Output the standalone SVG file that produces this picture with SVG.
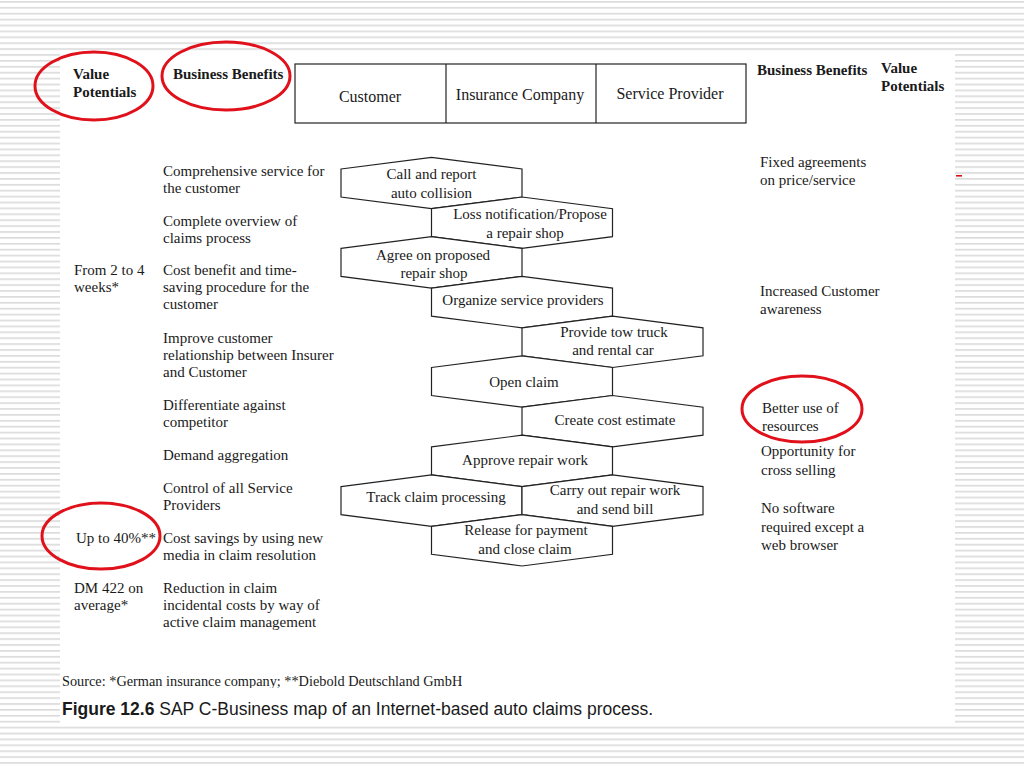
<svg xmlns="http://www.w3.org/2000/svg" width="1024" height="768" viewBox="0 0 1024 768">
<defs>
<pattern id="stripes" x="0" y="1" width="8" height="5.9" patternUnits="userSpaceOnUse">
<rect x="0" y="0" width="8" height="1.7" fill="#dcdcdc"/>
</pattern>
<clipPath id="srcclip"><rect x="55" y="660" width="500" height="28"/></clipPath>
</defs>
<style>
.t{font-family:"Liberation Serif","Times New Roman",serif;font-size:15px;fill:#1a1a1a}
.h{font-family:"Liberation Serif","Times New Roman",serif;font-size:15px;font-weight:bold;fill:#1a1a1a}
.lane{font-family:"Liberation Serif","Times New Roman",serif;font-size:16px;fill:#1a1a1a;text-anchor:middle}
.m{text-anchor:middle}
.hex{fill:#ffffff;stroke:#222;stroke-width:1.2;stroke-linejoin:miter}
.ring{fill:none;stroke:#e0111b;stroke-width:3}
.cap{font-family:"Liberation Sans",Arial,sans-serif;font-size:17.5px;fill:#1a1a1a}
</style>
<rect width="1024" height="768" fill="#ffffff"/>
<rect width="1024" height="768" fill="url(#stripes)"/>
<rect x="60" y="52" width="895" height="671" fill="#ffffff"/>

<g id="header-left">
<text class="h" x="73" y="79">Value</text>
<text class="h" x="73" y="97">Potentials</text>
<text class="h" x="173" y="79">Business Benefits</text>
</g>
<g id="header-right">
<text class="h" x="757" y="75">Business Benefits</text>
<text class="h" x="881" y="73">Value</text>
<text class="h" x="881" y="91">Potentials</text>
</g>

<g id="lanes">
<rect x="295" y="64" width="451" height="59" fill="none" stroke="#222" stroke-width="1.2"/>
<line x1="446" y1="64" x2="446" y2="123" stroke="#222" stroke-width="1.2"/>
<line x1="596" y1="64" x2="596" y2="123" stroke="#222" stroke-width="1.2"/>
<text class="lane" x="370" y="102">Customer</text>
<text class="lane" x="520" y="100">Insurance Company</text>
<text class="lane" x="670" y="99">Service Provider</text>
</g>

<g id="benefits-left">
<text class="t" x="163" y="176">Comprehensive service for</text>
<text class="t" x="163" y="193">the customer</text>
<text class="t" x="163" y="226">Complete overview of</text>
<text class="t" x="163" y="243">claims process</text>
<text class="t" x="163" y="275">Cost benefit and time-</text>
<text class="t" x="163" y="292">saving procedure for the</text>
<text class="t" x="163" y="309">customer</text>
<text class="t" x="163" y="343">Improve customer</text>
<text class="t" x="163" y="360">relationship between Insurer</text>
<text class="t" x="163" y="377">and Customer</text>
<text class="t" x="163" y="410">Differentiate against</text>
<text class="t" x="163" y="427">competitor</text>
<text class="t" x="163" y="460">Demand aggregation</text>
<text class="t" x="163" y="493">Control of all Service</text>
<text class="t" x="163" y="510">Providers</text>
<text class="t" x="163" y="543">Cost savings by using new</text>
<text class="t" x="163" y="560">media in claim resolution</text>
<text class="t" x="163" y="593">Reduction in claim</text>
<text class="t" x="163" y="610">incidental costs by way of</text>
<text class="t" x="163" y="627">active claim management</text>
</g>

<g id="values-left">
<text class="t" x="74" y="275">From 2 to 4</text>
<text class="t" x="74" y="292">weeks*</text>
<text class="t" x="76" y="543">Up to 40%**</text>
<text class="t" x="74" y="593">DM 422 on</text>
<text class="t" x="74" y="610">average*</text>
</g>

<g id="benefits-right">
<text class="t" x="760" y="167">Fixed agreements</text>
<text class="t" x="760" y="185">on price/service</text>
<text class="t" x="760" y="296">Increased Customer</text>
<text class="t" x="760" y="314">awareness</text>
<text class="t" x="762" y="413">Better use of</text>
<text class="t" x="762" y="431">resources</text>
<text class="t" x="761" y="456">Opportunity for</text>
<text class="t" x="761" y="475">cross selling</text>
<text class="t" x="761" y="513">No software</text>
<text class="t" x="761" y="532">required except a</text>
<text class="t" x="761" y="550">web browser</text>
</g>

<g id="hex-call">
<polygon class="hex" points="341,169 431.5,157.3 522,169 522,197 431.5,208.7 341,197"/>
<text class="t m" x="431.5" y="179">Call and report</text>
<text class="t m" x="431.5" y="198">auto collision</text>
</g>
<g id="hex-loss">
<polygon class="hex" points="431.5,208.7 522,197 612.5,208.7 612.5,236.7 522,248.4 431.5,236.7"/>
<text class="t m" x="530" y="219">Loss notification/Propose</text>
<text class="t m" x="525" y="238">a repair shop</text>
</g>
<g id="hex-agree">
<polygon class="hex" points="341,248.4 431.5,236.7 522,248.4 522,276.4 431.5,288.1 341,276.4"/>
<text class="t m" x="433" y="260">Agree on proposed</text>
<text class="t m" x="434" y="278">repair shop</text>
</g>
<g id="hex-organize">
<polygon class="hex" points="431.5,288.1 522,276.4 612.5,288.1 612.5,316.1 522,327.8 431.5,316.1"/>
<text class="t m" x="523" y="305">Organize service providers</text>
</g>
<g id="hex-tow">
<polygon class="hex" points="522,327.8 612.5,316.1 703,327.8 703,355.8 612.5,367.5 522,355.8"/>
<text class="t m" x="614" y="337">Provide tow truck</text>
<text class="t m" x="613" y="355">and rental car</text>
</g>
<g id="hex-open">
<polygon class="hex" points="431.5,367.5 522,355.8 612.5,367.5 612.5,395.5 522,407.2 431.5,395.5"/>
<text class="t m" x="524" y="387">Open claim</text>
</g>
<g id="hex-estimate">
<polygon class="hex" points="522,407.2 612.5,395.5 703,407.2 703,435.2 612.5,446.9 522,435.2"/>
<text class="t m" x="615" y="425">Create cost estimate</text>
</g>
<g id="hex-approve">
<polygon class="hex" points="431.5,446.9 522,435.2 612.5,446.9 612.5,474.9 522,486.6 431.5,474.9"/>
<text class="t m" x="525" y="465">Approve repair work</text>
</g>
<g id="hex-track">
<polygon class="hex" points="341,486.6 431.5,474.9 522,486.6 522,514.6 431.5,526.3 341,514.6"/>
<text class="t m" x="436" y="502">Track claim processing</text>
</g>
<g id="hex-repair">
<polygon class="hex" points="522,486.6 612.5,474.9 703,486.6 703,514.6 612.5,526.3 522,514.6"/>
<text class="t m" x="615" y="495">Carry out repair work</text>
<text class="t m" x="615" y="514">and send bill</text>
</g>
<g id="hex-release">
<polygon class="hex" points="431.5,526.3 522,514.6 612.5,526.3 612.5,554.3 522,566 431.5,554.3"/>
<text class="t m" x="526" y="535">Release for payment</text>
<text class="t m" x="525" y="554">and close claim</text>
</g>

<g id="highlights">
<ellipse class="ring" cx="94" cy="86" rx="59" ry="34"/>
<ellipse class="ring" cx="226" cy="76" rx="64" ry="34"/>
<ellipse class="ring" cx="101" cy="536" rx="59" ry="33"/>
<ellipse class="ring" cx="802" cy="409" rx="60" ry="33"/>
<rect x="956" y="175" width="6" height="1.6" fill="#e0111b"/>
</g>

<g id="footer">
<text class="t" x="62" y="686" style="font-size:14.3px" clip-path="url(#srcclip)">Source:  *German insurance company; **Diebold Deutschland GmbH</text>
<text class="cap" x="62" y="715"><tspan font-weight="bold">Figure 12.6</tspan> SAP C-Business map of an Internet-based auto claims process.</text>
</g>
</svg>
